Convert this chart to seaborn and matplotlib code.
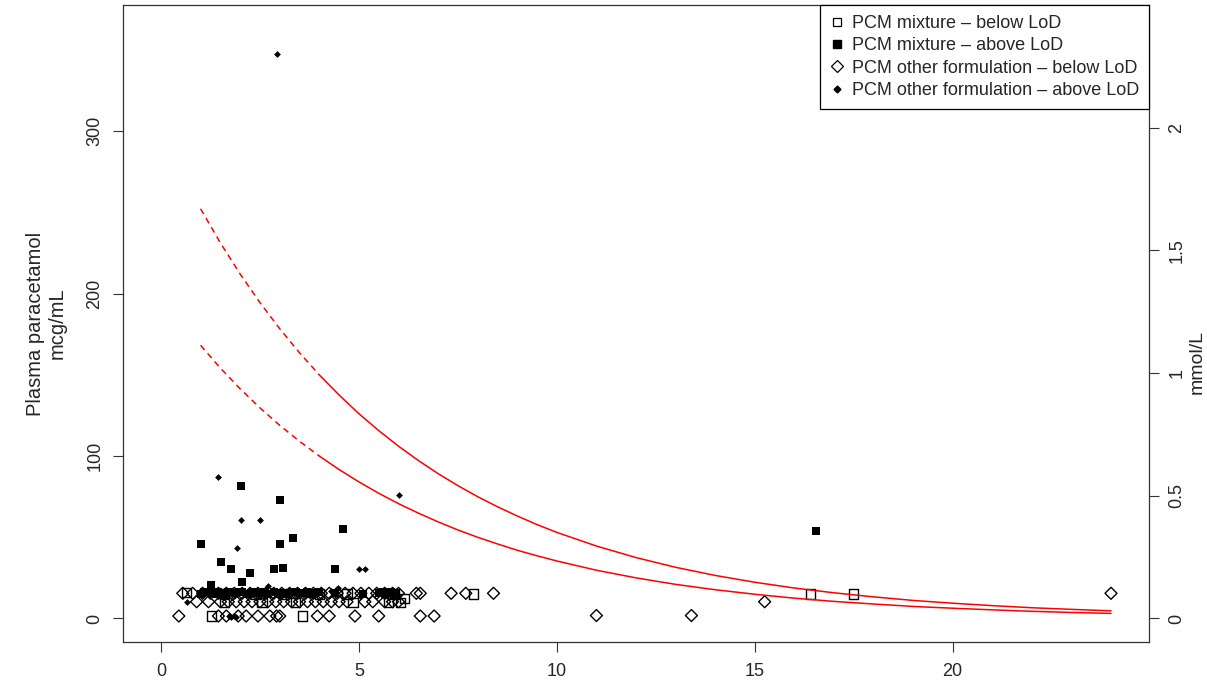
import pandas as pd
import matplotlib.pyplot as plt
import seaborn as sns
from matplotlib.lines import Line2D

# Nomogram lines (mcg/mL)
hours = [1, 1.5, 2, 2.5, 3, 3.5, 4, 4.5, 5, 5.5, 6, 6.5, 7, 7.5, 8, 8.5, 9, 9.5, 10,
         11, 12, 13, 14, 15, 16, 17, 18, 19, 20, 21, 22, 23, 24]
upper_line = [252.3, 231.3, 212.1, 194.5, 178.4, 163.6, 150, 137.6, 126.1, 115.7, 106.1, 97.3,
              89.2, 81.8, 75, 68.8, 63.1, 57.8, 53, 44.6, 37.5, 31.5, 26.5, 22.3, 18.75, 15.8,
              13.3, 11.1, 9.4, 7.9, 6.6, 5.6, 4.7]
lower_line = [168.2, 154.2, 141.4, 129.7, 118.9, 109.1, 100, 91.7, 84.1, 77.1, 70.7, 64.9,
              59.5, 54.5, 50, 45.9, 42, 38.6, 35.4, 29.7, 25, 21, 17.7, 14.9, 12.5, 10.5,
              8.9, 7.4, 6.3, 5.3, 4.4, 3.7, 3.1]

# PCM mixture - below LoD (open squares)
mix_below_x = [0.65, 1.28, 1.6, 2.4, 3.1, 3.58, 4.0, 4.7, 5.9, 6.05, 6.15, 7.9, 16.4, 17.5,
               1.6, 2.55, 3.4, 4.85, 5.75]
mix_below_y = [16, 1.5, 15, 15, 15, 1.5, 15, 15, 15, 10, 12.3, 15, 15, 15,
               10, 10, 10, 10, 10]

# PCM mixture - above LoD (filled squares)
mix_above_x = [1.01, 1.26, 1.51, 1.76, 2.01, 2.04, 2.26, 2.85, 3.0, 3.0, 3.09, 3.33, 4.39, 4.6, 16.55,
               1.0, 1.15, 1.3, 1.45, 1.6, 1.75, 1.9, 2.05, 2.2, 2.35, 2.5, 2.7, 2.85, 3.0, 3.2,
               3.4, 3.6, 3.8, 4.0, 4.4, 5.1, 5.5, 5.65, 5.8, 5.9,
               1.08, 1.38, 1.68, 1.98, 2.28, 2.6, 2.95, 3.3, 3.5, 3.7, 3.9, 5.6, 5.75]
mix_above_y = [45.7, 20.6, 34.6, 30.7, 81.6, 22.7, 28.2, 30.7, 73, 45.7, 31.3, 49.4, 30.7, 55.1, 53.7,
               15, 16, 15.5, 16, 15, 16.5, 15.5, 16, 15, 16, 15.5, 15, 16.5, 15.5, 15,
               16, 15.5, 15, 16, 15.5, 15, 15.5, 15, 16, 15,
               16.5, 15, 16, 16.5, 15.5, 16, 15, 16.5, 15.5, 16, 15.5, 16.5, 15.5]

# PCM other formulation - below LoD (open diamonds)
other_below_x = [0.55, 0.8, 1.05, 1.25, 1.45, 1.65, 1.85, 2.05, 2.25, 2.45, 2.65, 2.85, 3.05, 3.25,
                 3.45, 3.65, 3.85, 4.05, 4.25, 4.45, 4.65, 4.85, 5.05, 5.25, 5.45, 5.65, 5.85, 6.0,
                 6.45, 6.55, 7.33, 7.7, 8.4, 24.0,
                 0.9, 1.2, 1.5, 1.7, 1.9, 2.1, 2.3, 2.5, 2.7, 2.9, 3.1, 3.3, 3.5, 3.7, 3.9, 4.1,
                 4.3, 4.5, 4.7, 5.15, 5.35, 5.65, 5.85, 6.0, 15.25,
                 0.45, 1.45, 1.65, 1.95, 2.15, 2.45, 2.75, 2.92, 3.0, 3.95, 4.25, 4.9, 5.5, 6.55,
                 6.9, 11.0, 13.4]
other_below_y = [15.5, 15.5, 15.5, 15.5, 15.5, 15.5, 15.5, 15.5, 15.5, 15.5, 15.5, 15.5, 15.5, 15.5,
                 15.5, 15.5, 15.5, 15.5, 15.5, 15.5, 15.5, 15.5, 15.5, 15.5, 15.5, 15.5, 15.5, 15.5,
                 15.5, 15.5, 15.5, 15.5, 15.5, 15.5,
                 10.3, 10.3, 10.3, 10.3, 10.3, 10.3, 10.3, 10.3, 10.3, 10.3, 10.3, 10.3, 10.3, 10.3,
                 10.3, 10.3, 10.3, 10.3, 10.3, 10.3, 10.3, 10.3, 10.3, 10.3, 10.3,
                 1.5, 1.5, 1.5, 1.5, 1.5, 1.5, 1.5, 1.5, 1.5, 1.5, 1.5, 1.5, 1.5, 1.5,
                 1.5, 1.8, 1.8]

# PCM other formulation - above LoD (small filled diamonds)
other_above_x = [2.92, 1.43, 6.0, 2.01, 2.51, 1.91, 5.01, 5.16, 2.7, 4.47, 0.65,
                 1.72, 1.78, 1.84, 1.9, 2.3, 3.3, 4.3, 5.6]
other_above_y = [347.4, 87.3, 75.9, 60.7, 60.7, 43.2, 30.7, 30.7, 20, 18.8, 10.3,
                 1.5, 0.8, 1.8, 1.2, 17, 16.5, 16.8, 16]

legend_labels = ["PCM mixture \u2013 below LoD", "PCM mixture \u2013 above LoD",
                 "PCM other formulation \u2013 below LoD", "PCM other formulation \u2013 above LoD"]

mmol_ticks = [0, 0.5, 1, 1.5, 2]
mmol_labels = ["0", "0.5", "1", "1.5", "2"]
mcg_per_mmol = 151.16

sns.set_style("ticks")
plt.rcParams['font.family'] = ['Liberation Sans', 'DejaVu Sans']

lines = pd.DataFrame({"hours": hours, "upper": upper_line, "lower": lower_line})
early = lines[lines["hours"] <= 4]
late = lines[lines["hours"] >= 4]

fig = plt.figure(figsize=(12.07, 6.85), dpi=100)
ax = fig.add_axes([123 / 1207, 1 - 642 / 685, 1026 / 1207, 637 / 685])

# red nomogram lines, dashed before 4 h
for col in ["upper", "lower"]:
    sns.lineplot(data=early, x="hours", y=col, ax=ax, color="red", linewidth=1.1,
                 linestyle=(0, (4, 3)), estimator=None)
    sns.lineplot(data=late, x="hours", y=col, ax=ax, color="red", linewidth=1.1, estimator=None)

sns.scatterplot(x=other_below_x, y=other_below_y, ax=ax, marker="D", s=37,
                facecolor="none", edgecolor="black", linewidth=1.0)
sns.scatterplot(x=mix_below_x, y=mix_below_y, ax=ax, marker="s", s=44,
                facecolor="none", edgecolor="black", linewidth=1.0)
sns.scatterplot(x=mix_above_x, y=mix_above_y, ax=ax, marker="s", s=34, color="black",
                linewidth=0)
sns.scatterplot(x=other_above_x, y=other_above_y, ax=ax, marker="D", s=12, color="black",
                linewidth=0)

ax.set_xlim(-0.96, 24.96)
ylim = (-14.5, 377.8)
ax.set_ylim(ylim)
ax.set_xticks([0, 5, 10, 15, 20])
ax.set_yticks([0, 100, 200, 300])
ax.set_xlabel("")
ax.set_ylabel("Plasma paracetamol\nmcg/mL", fontsize=14.5, labelpad=14, linespacing=1.2)
ax.tick_params(axis="both", direction="out", length=7, width=0.8, labelsize=13, color="#333333")
ax.tick_params(axis="x", pad=8)
ax.tick_params(axis="y", pad=7)
plt.setp(ax.get_yticklabels(), rotation=90, va="center")
for sp in ax.spines.values():
    sp.set_color("#333333")
    sp.set_linewidth(0.9)

# right axis in mmol/L
ax2 = ax.twinx()
ax2.set_ylim(ylim[0] / mcg_per_mmol, ylim[1] / mcg_per_mmol)
ax2.set_yticks(mmol_ticks)
ax2.set_yticklabels(mmol_labels)
ax2.tick_params(axis="y", direction="out", length=7, width=0.8, labelsize=13, pad=7,
                color="#333333")
plt.setp(ax2.get_yticklabels(), rotation=90, va="center")
for sp in ax2.spines.values():
    sp.set_visible(False)
fig.text(1197 / 1207, 1 - 362 / 685, "mmol/L", rotation=90, ha="center", va="center", fontsize=14)

handles = [
    Line2D([], [], ls="none", marker="s", ms=6, mfc="none", mec="black", mew=0.9),
    Line2D([], [], ls="none", marker="s", ms=6, color="black"),
    Line2D([], [], ls="none", marker="D", ms=6, mfc="none", mec="black", mew=0.9),
    Line2D([], [], ls="none", marker="D", ms=3.5, color="black"),
]
leg = ax.legend(handles, legend_labels, loc="upper right", bbox_to_anchor=(1, 1), borderaxespad=0,
                frameon=True, fancybox=False, edgecolor="black", fontsize=13, handlelength=0.8,
                handletextpad=0.4, labelspacing=0.3, borderpad=0.55, framealpha=1)
leg.get_frame().set_linewidth(0.9)

plt.savefig("out.png", dpi=100)
